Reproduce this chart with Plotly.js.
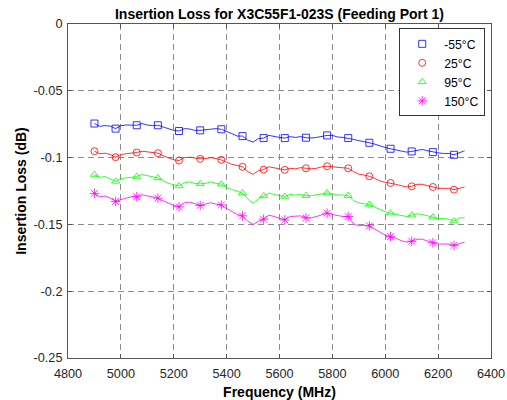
<!DOCTYPE html>
<html>
<head>
<meta charset="utf-8">
<script src="https://cdn.plot.ly/plotly-3.0.1.min.js"></script>
<style>html,body{margin:0;padding:0;background:#fff;}#chart{width:507px;height:400px;}</style>
</head>
<body>
<div id="chart"></div>
<script>
// Frequencies (MHz) of the measured curve
const freq = [4900,4920,4940,4960,4980,5000,5020,5040,5060,5080,5100,5120,5140,5160,5180,5200,5220,5240,5260,5280,5300,5320,5340,5360,5380,5400,5420,5440,5460,5480,5500,5520,5540,5560,5580,5600,5620,5640,5660,5680,5700,5720,5740,5760,5780,5800,5820,5840,5860,5880,5900,5920,5940,5960,5980,6000,6020,6040,6060,6080,6100,6120,6140,6160,6180,6200,6220,6240,6260,6280,6300];
// Frequencies where markers are drawn
const markerFreqs = [4900,4980,5060,5140,5220,5300,5380,5460,5540,5620,5700,5780,5860,5940,6020,6100,6180,6260];

const lossM55 = [-0.0745,-0.0766,-0.0761,-0.0764,-0.0783,-0.0761,-0.0756,-0.0758,-0.0758,-0.0745,-0.0756,-0.0761,-0.0758,-0.0771,-0.0786,-0.0796,-0.0801,-0.0783,-0.0786,-0.0796,-0.0796,-0.0791,-0.0791,-0.0783,-0.0788,-0.0803,-0.0821,-0.0839,-0.0839,-0.0869,-0.0884,-0.0858,-0.0854,-0.0834,-0.0843,-0.0849,-0.0854,-0.0843,-0.0849,-0.0843,-0.0851,-0.0854,-0.0849,-0.0839,-0.0834,-0.0834,-0.0846,-0.0849,-0.0854,-0.0864,-0.0873,-0.0879,-0.0889,-0.0899,-0.0914,-0.0924,-0.0934,-0.0944,-0.0954,-0.0959,-0.0954,-0.0944,-0.0939,-0.0949,-0.0959,-0.0964,-0.0969,-0.0969,-0.0979,-0.0964,-0.0949];
const loss25 = [-0.0952,-0.0971,-0.0967,-0.0977,-0.0997,-0.0977,-0.0971,-0.0967,-0.0962,-0.0952,-0.0956,-0.0964,-0.0967,-0.0986,-0.1001,-0.1017,-0.1022,-0.1001,-0.0997,-0.1005,-0.1009,-0.1007,-0.1001,-0.1007,-0.1017,-0.1035,-0.1050,-0.1059,-0.1069,-0.1105,-0.1125,-0.1099,-0.1090,-0.1069,-0.1075,-0.1084,-0.1092,-0.1080,-0.1084,-0.1075,-0.1080,-0.1084,-0.1080,-0.1069,-0.1065,-0.1069,-0.1075,-0.1080,-0.1080,-0.1105,-0.1124,-0.1131,-0.1140,-0.1155,-0.1175,-0.1185,-0.1190,-0.1200,-0.1210,-0.1220,-0.1215,-0.1200,-0.1200,-0.1210,-0.1220,-0.1230,-0.1230,-0.1230,-0.1240,-0.1230,-0.1220];
const loss95 = [-0.1127,-0.1148,-0.1142,-0.1157,-0.1178,-0.1157,-0.1152,-0.1142,-0.1142,-0.1127,-0.1137,-0.1142,-0.1152,-0.1172,-0.1193,-0.1203,-0.1212,-0.1188,-0.1182,-0.1193,-0.1197,-0.1193,-0.1182,-0.1193,-0.1199,-0.1225,-0.1240,-0.1255,-0.1265,-0.1310,-0.1340,-0.1310,-0.1285,-0.1265,-0.1276,-0.1285,-0.1291,-0.1276,-0.1280,-0.1276,-0.1285,-0.1285,-0.1280,-0.1270,-0.1265,-0.1270,-0.1280,-0.1280,-0.1285,-0.1323,-0.1338,-0.1346,-0.1351,-0.1370,-0.1391,-0.1406,-0.1416,-0.1426,-0.1436,-0.1441,-0.1431,-0.1421,-0.1426,-0.1436,-0.1446,-0.1456,-0.1456,-0.1461,-0.1476,-0.1451,-0.1451];
const loss150 = [-0.1268,-0.1293,-0.1288,-0.1303,-0.1328,-0.1313,-0.1303,-0.1293,-0.1293,-0.1278,-0.1288,-0.1293,-0.1303,-0.1323,-0.1343,-0.1358,-0.1368,-0.1338,-0.1333,-0.1343,-0.1358,-0.1348,-0.1338,-0.1348,-0.1355,-0.1381,-0.1406,-0.1426,-0.1436,-0.1476,-0.1501,-0.1476,-0.1461,-0.1431,-0.1441,-0.1456,-0.1466,-0.1441,-0.1436,-0.1436,-0.1451,-0.1451,-0.1441,-0.1426,-0.1416,-0.1426,-0.1436,-0.1441,-0.1441,-0.1496,-0.1511,-0.1506,-0.1511,-0.1536,-0.1562,-0.1581,-0.1592,-0.1602,-0.1622,-0.1632,-0.1626,-0.1611,-0.1611,-0.1626,-0.1637,-0.1647,-0.1647,-0.1647,-0.1657,-0.1642,-0.1632];

const seriesNames = ['-55°C','25°C','95°C','150°C'];
const xTickVals = [4800,5000,5200,5400,5600,5800,6000,6200,6400];
const xTickText = ['4800','5000','5200','5400','5600','5800','6000','6200','6400'];
const yTickVals = [-0.25,-0.2,-0.15,-0.1,-0.05,0];
const yTickText = ['-0.25','-0.2','-0.15','-0.1','-0.05','0'];

const allSeries = [lossM55, loss25, loss95, loss150];
const colors = ['#0000ff','#ff0000','#00ff00','#ff00ff'];
const symbols = ['square-open','circle-open','triangle-up-open','asterisk-open'];
const sizes = [7,7,7,8];

const traces = [];
allSeries.forEach((s, i) => {
  traces.push({
    x: freq, y: s, mode: 'lines', type: 'scatter', showlegend: false,
    line: {color: colors[i], width: 0.8}, hoverinfo: 'skip'
  });
});
allSeries.forEach((s, i) => {
  const mx = markerFreqs;
  const my = markerFreqs.map(f => s[freq.indexOf(f)]);
  traces.push({
    x: mx, y: my, mode: 'markers', type: 'scatter', name: seriesNames[i],
    marker: {symbol: symbols[i], size: sizes[i], color: colors[i], line: {color: colors[i], width: 0.8}}
  });
});

const fontFam = 'Liberation Sans, Arial, Helvetica, sans-serif';
const axisCommon = {
  showline: true, linecolor: '#555', linewidth: 1, mirror: 'ticks',
  ticks: 'inside', ticklen: 4, tickcolor: '#555', tickwidth: 1,
  showgrid: true, gridcolor: '#8c8c8c', gridwidth: 1, griddash: '6px,4px',
  zeroline: false, tickfont: {family: fontFam, size: 12.7, color: '#262626'},
  tickmode: 'array'
};

const layout = {
  width: 507, height: 400,
  margin: {l: 68, r: 16, t: 24, b: 42},
  paper_bgcolor: '#fff', plot_bgcolor: '#fff',
  font: {family: fontFam, color: '#000'},
  title: {text: '<b>Insertion Loss for X3C55F1-023S (Feeding Port 1)</b>', font: {family: fontFam, size: 14, color: '#000'},
    xref: 'paper', x: 0.5, xanchor: 'center', yref: 'container', y: 0.965, yanchor: 'middle'},
  xaxis: Object.assign({}, axisCommon, {range: [4800, 6400], tickvals: xTickVals, ticktext: xTickText, ticklabelstandoff: 4,
    title: {text: '<b>Frequency (MHz)</b>', font: {family: fontFam, size: 14, color: '#000'}, standoff: 6}}),
  yaxis: Object.assign({}, axisCommon, {range: [-0.25, 0], tickvals: yTickVals, ticktext: yTickText, ticklabelstandoff: 2,
    title: {text: '<b>Insertion Loss (dB)</b>', font: {family: fontFam, size: 14, color: '#000'}, standoff: 3}}),
  legend: {x: 0.783, xanchor: 'left', y: 0.987, yanchor: 'top', bgcolor: '#fff', bordercolor: '#333', borderwidth: 1,
    itemwidth: 34, font: {family: fontFam, size: 12.2, color: '#000'}},
  showlegend: true
};

Plotly.newPlot('chart', traces, layout, {staticPlot: true, displayModeBar: false});
</script>
</body>
</html>
